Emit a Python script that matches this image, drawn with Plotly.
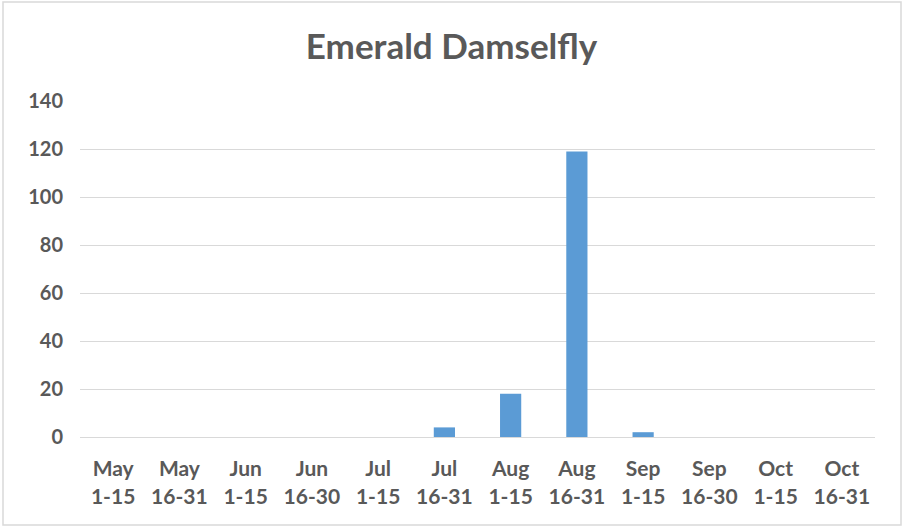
import plotly.graph_objects as go

categories = ["May<br>1-15", "May<br>16-31", "Jun<br>1-15", "Jun<br>16-30", "Jul<br>1-15", "Jul<br>16-31",
              "Aug<br>1-15", "Aug<br>16-31", "Sep<br>1-15", "Sep<br>16-30", "Oct<br>1-15", "Oct<br>16-31"]
counts = [0, 0, 0, 0, 0, 4, 18, 119, 2, 0, 0, 0]
y_ticks = [0, 20, 40, 60, 80, 100, 120, 140]

W, H = 903, 528
L, R, T, B = 80, 28, 101, 91
pw, ph = W - L - R, H - T - B

fig = go.Figure(go.Bar(x=categories, y=counts, marker=dict(color="#5B9BD5", line=dict(width=0))))

font = "Lato, Calibri, 'Open Sans', sans-serif"
fig.update_layout(
    width=W, height=H,
    margin=dict(l=L, r=R, t=T, b=B),
    paper_bgcolor="white", plot_bgcolor="white",
    bargap=0.68,
    showlegend=False,
    title=dict(text="<b>Emerald Damselfly</b>", x=0.5, xanchor="center", y=1 - 47 / H, yanchor="middle",
               font=dict(family=font, size=35, color="#595959")),
    font=dict(family=font, color="#595959"),
)
fig.update_yaxes(range=[0, 140], tickvals=y_ticks, showgrid=True, gridcolor="#D9D9D9", gridwidth=1,
                 zeroline=False, showline=False, ticks="", ticklabelstandoff=16,
                 tickfont=dict(family=font, size=20, color="#595959", weight="bold"))
fig.update_xaxes(showgrid=False, showline=True, linecolor="#D9D9D9", linewidth=1, ticks="",
                 ticklabelstandoff=13,
                 tickfont=dict(family=font, size=21, color="#595959", weight="bold"))
fig.add_shape(type="rect", xref="paper", yref="paper",
              x0=(3 - L) / pw, x1=(901 - L) / pw, y0=(437 - 525) / ph, y1=(437 - 2) / ph,
              line=dict(color="#D9D9D9", width=1.5), fillcolor="rgba(0,0,0,0)", layer="below")
fig.write_html("out.html", config={"displayModeBar": False})

with open("out.html", encoding="utf-8") as f:
    html = f.read()
html = html.replace("<body>", '<body style="margin:0;padding:0;">', 1)
with open("out.html", "w", encoding="utf-8") as f:
    f.write(html)
